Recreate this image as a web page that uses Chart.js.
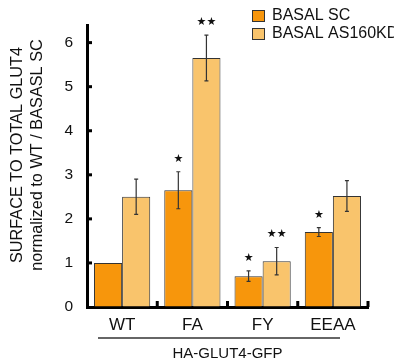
<!DOCTYPE html>
<html>
<head>
<meta charset="utf-8">
<script src="https://cdn.jsdelivr.net/npm/chart.js@4.4.0/dist/chart.umd.min.js"></script>
<style>
  html, body { margin: 0; padding: 0; background: #fff; }
</style>
</head>
<body>
<canvas id="chart" width="394" height="364"></canvas>
<script>
// data
const categories = ['WT', 'FA', 'FY', 'EEAA'];
const seriesNames = ['BASAL SC', 'BASAL AS160KD'];
const scValues = [1.0, 2.65, 0.70, 1.70];
const scErrors = [0, 0.42, 0.12, 0.10];
const scStars = ['', '*', '*', '*'];
const asValues = [2.5, 5.65, 1.04, 2.52];
const asErrors = [0.40, 0.52, 0.31, 0.35];
const asStars = ['', '**', '**', ''];
const yTickValues = [0, 1, 2, 3, 4, 5, 6];
const yTitleLines = ['SURFACE TO TOTAL GLUT4', 'normalized to WT / BASASL SC'];

const errors = [scErrors, asErrors];
const stars = [scStars, asStars];

const FONT = "'Liberation Sans', Arial, Helvetica, sans-serif";

// error bars, stars, inward ticks, legend, y title and group line
const decor = {
    id: 'decor',
    afterDraw(chart) {
        const ctx = chart.ctx;
        const x = chart.scales.x;
        const y = chart.scales.y;
        const area = chart.chartArea;
        ctx.save();

        // inward ticks on y axis
        ctx.fillStyle = '#000';
        yTickValues.forEach(v => {
            if (v === 0) return;
            const py = y.getPixelForValue(v);
            ctx.fillRect(area.left, py - 1.5, 5, 3);
        });
        // inward ticks on x axis, at group boundaries
        for (let i = 0; i < categories.length; i++) {
            const px = x.getPixelForValue(i + 0.5);
            ctx.fillRect(px - 1.5, area.bottom - 6, 3, 6);
        }

        // error bars + stars
        chart.data.datasets.forEach((ds, di) => {
            const meta = chart.getDatasetMeta(di);
            meta.data.forEach((bar, j) => {
                const v = ds.data[j];
                const e = errors[di][j];
                const top = y.getPixelForValue(v + e);
                if (e > 0) {
                    const bot = y.getPixelForValue(v - e);
                    ctx.strokeStyle = '#333';
                    ctx.lineWidth = 1.2;
                    ctx.beginPath();
                    ctx.moveTo(bar.x, top);
                    ctx.lineTo(bar.x, bot);
                    ctx.moveTo(bar.x - 2, top);
                    ctx.lineTo(bar.x + 2, top);
                    ctx.moveTo(bar.x - 2, bot);
                    ctx.lineTo(bar.x + 2, bot);
                    ctx.stroke();
                }
                const s = stars[di][j];
                if (s) {
                    ctx.fillStyle = '#111';
                    ctx.font = "11px 'DejaVu Sans'";
                    ctx.textAlign = 'center';
                    ctx.textBaseline = 'middle';
                    ctx.fillText(s.replace(/\*/g, '\u2605'), bar.x, top - 13);
                }
            });
        });

        // legend
        ctx.font = '16px ' + FONT;
        ctx.textAlign = 'left';
        ctx.textBaseline = 'middle';
        chart.data.datasets.forEach((ds, di) => {
            const ly = 16 + di * 18;
            ctx.fillStyle = ds.backgroundColor;
            ctx.fillRect(252, ly - 6, 13, 12);
            ctx.strokeStyle = '#333';
            ctx.lineWidth = 1;
            ctx.strokeRect(252.5, ly - 5.5, 12, 11);
            ctx.fillStyle = '#111';
            ctx.fillText(ds.label, 272, ly);
        });

        // y title, two rotated lines
        ctx.font = '16.3px ' + FONT;
        ctx.textAlign = 'center';
        ctx.textBaseline = 'middle';
        ctx.fillStyle = '#111';
        yTitleLines.forEach((t, i) => {
            ctx.save();
            ctx.translate(18 + i * 20, 155);
            ctx.rotate(-Math.PI / 2);
            ctx.fillText(t, 0, 0);
            ctx.restore();
        });

        // line over the group title
        ctx.strokeStyle = '#333';
        ctx.lineWidth = 1.5;
        ctx.beginPath();
        ctx.moveTo(area.left + 11, 338);
        ctx.lineTo(area.right - 28, 338);
        ctx.stroke();

        ctx.restore();
    }
};

new Chart(document.getElementById('chart'), {
    type: 'bar',
    data: {
        labels: categories,
        datasets: [
            {
                label: seriesNames[0],
                data: scValues,
                backgroundColor: '#F7960C',
                borderColor: '#333',
                borderWidth: 1,
                categoryPercentage: 0.8,
                barPercentage: 1.0
            },
            {
                label: seriesNames[1],
                data: asValues,
                backgroundColor: '#F9C46C',
                borderColor: '#333',
                borderWidth: 1,
                categoryPercentage: 0.8,
                barPercentage: 1.0
            }
        ]
    },
    options: {
        responsive: false,
        animation: false,
        devicePixelRatio: 1,
        layout: { padding: { left: 0, right: 26, top: 25, bottom: 0 } },
        plugins: {
            legend: { display: false },
            tooltip: { enabled: false }
        },
        scales: {
            x: {
                z: 1,
                grid: { drawOnChartArea: false, drawTicks: false },
                border: { display: true, color: '#000', width: 3 },
                ticks: {
                    color: '#111',
                    padding: 8,
                    font: { family: FONT, size: 17 }
                },
                title: {
                    display: true,
                    text: 'HA-GLUT4-GFP',
                    color: '#111',
                    font: { family: FONT, size: 15, lineHeight: '18px' },
                    padding: { top: 0, bottom: 1 }
                },
                afterFit(scale) { scale.height = 57; }
            },
            y: {
                z: 1,
                min: 0,
                max: 6.4,
                afterBuildTicks(scale) {
                    scale.ticks = yTickValues.map(v => ({ value: v }));
                },
                grid: { drawOnChartArea: false, drawTicks: false },
                border: { display: true, color: '#000', width: 3 },
                ticks: {
                    color: '#111',
                    padding: 14,
                    font: { family: FONT, size: 15.5 }
                },
                title: { display: false },
                afterFit(scale) { scale.width = 87; }
            }
        }
    },
    plugins: [decor]
});
</script>
</body>
</html>
